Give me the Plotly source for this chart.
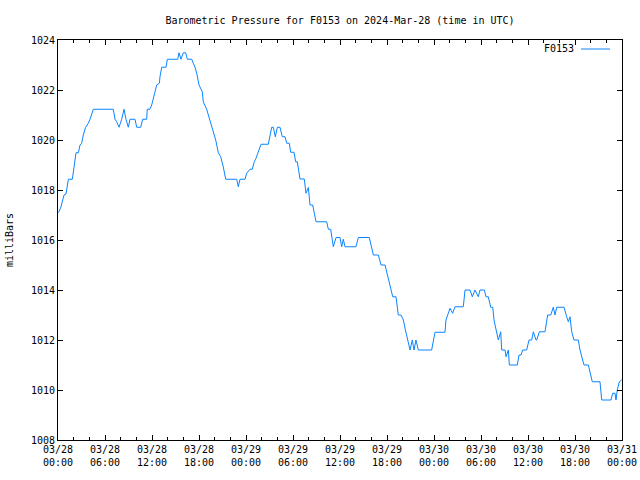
import pandas as pd
import plotly.graph_objects as go

# Hours since 2024-03-28 00:00 UTC and pressure (mb)
hours = [0.0, 0.13, 0.38, 0.55, 0.77, 1.02, 1.11, 1.32, 1.83, 2.04, 2.30, 2.60, 2.81, 3.02, 3.23, 3.53,
         3.87, 4.09, 4.51, 7.06, 7.28, 7.49, 7.79, 8.13, 8.43, 8.68, 8.98, 9.19, 9.83, 10.05, 10.56,
         10.81, 11.32, 11.40, 11.74, 11.96, 12.17, 12.38, 12.60, 12.94, 13.02, 13.24, 13.79, 13.96,
         15.28, 15.45, 15.70, 16.00, 16.30, 16.51, 17.07, 17.27, 17.49, 17.71, 18.00, 18.42, 18.55,
         18.98, 19.32, 19.70, 20.13, 20.47, 20.77, 21.10, 21.41, 22.81, 23.02, 23.23, 23.87, 24.09,
         24.51, 24.80, 25.06, 25.28, 25.57, 25.92, 26.85, 27.06, 27.28, 27.49, 27.74, 28.00, 28.34,
         28.63, 28.98, 29.20, 29.53, 29.70, 30.13, 30.34, 30.55, 30.89, 31.44, 31.66, 31.96, 32.17,
         32.51, 32.94, 34.30, 34.51, 34.81, 35.15, 35.49, 36.00, 36.21, 36.42, 36.64, 38.04, 38.34,
         39.74, 40.05, 40.26, 40.89, 41.24, 41.75, 41.96, 42.17, 42.51, 42.73, 43.15, 43.44, 43.79,
         44.09, 44.30, 44.64, 44.94, 45.23, 45.45, 45.70, 46.00, 47.70, 47.91, 48.13, 49.40, 49.53,
         49.83, 50.04, 50.38, 50.68, 51.74, 51.87, 51.96, 52.60, 52.89, 53.23, 53.66, 53.87, 54.43,
         54.64, 54.93, 55.24, 55.50, 55.66, 55.92, 56.21, 56.52, 56.64, 57.07, 57.19, 57.49, 57.62,
         58.64, 58.85, 59.11, 59.32, 59.83, 60.13, 60.47, 60.68, 61.02, 61.11, 61.45, 62.17, 62.51,
         62.90, 63.23, 63.45, 63.66, 64.60, 64.94, 65.15, 65.36, 65.58, 65.87, 66.42, 66.64, 67.15,
         67.70, 68.21, 69.19, 69.41, 70.60, 70.81, 71.11, 71.23, 71.40, 71.66, 71.95]
pressure = [1017.10, 1017.13, 1017.33, 1017.51, 1017.80, 1017.84, 1018.03, 1018.43, 1018.43, 1018.93,
            1019.49, 1019.49, 1019.80, 1019.87, 1020.20, 1020.51, 1020.67, 1020.83, 1021.23, 1021.23,
            1020.83, 1020.73, 1020.51, 1020.83, 1021.23, 1020.83, 1020.51, 1020.83, 1020.83, 1020.51,
            1020.51, 1020.83, 1020.83, 1021.23, 1021.23, 1021.40, 1021.67, 1021.93, 1022.20, 1022.27,
            1022.53, 1022.91, 1022.91, 1023.23, 1023.23, 1023.49, 1023.23, 1023.49, 1023.49, 1023.23,
            1023.23, 1023.07, 1022.91, 1022.67, 1022.20, 1021.93, 1021.53, 1021.23, 1020.87, 1020.51,
            1020.00, 1019.49, 1019.33, 1018.93, 1018.43, 1018.43, 1018.13, 1018.43, 1018.43, 1018.67,
            1018.83, 1018.83, 1019.13, 1019.27, 1019.53, 1019.83, 1019.83, 1020.20, 1020.51, 1020.51,
            1020.13, 1020.51, 1020.51, 1020.13, 1020.13, 1019.87, 1019.87, 1019.51, 1019.51, 1019.13,
            1019.13, 1018.44, 1018.44, 1017.87, 1018.10, 1017.40, 1017.40, 1016.73, 1016.73, 1016.43,
            1016.43, 1015.73, 1016.10, 1016.10, 1015.73, 1016.03, 1015.73, 1015.73, 1016.10, 1016.10,
            1015.73, 1015.40, 1015.40, 1015.00, 1015.00, 1014.73, 1014.40, 1013.96, 1013.73, 1013.73,
            1013.00, 1013.00, 1012.80, 1012.47, 1012.00, 1011.60, 1012.00, 1011.60, 1012.00, 1011.60,
            1011.60, 1012.00, 1012.31, 1012.31, 1012.80, 1013.07, 1013.27, 1013.07, 1013.33, 1013.33,
            1013.80, 1014.00, 1014.00, 1013.73, 1014.00, 1013.73, 1014.00, 1014.00, 1013.73, 1013.73,
            1013.31, 1013.31, 1012.80, 1012.40, 1012.00, 1012.33, 1011.60, 1011.60, 1011.33, 1011.60,
            1011.00, 1011.00, 1011.40, 1011.40, 1011.60, 1011.60, 1012.00, 1012.00, 1012.33, 1012.00,
            1012.00, 1012.33, 1012.33, 1013.00, 1013.00, 1013.31, 1013.00, 1013.31, 1013.31, 1012.93,
            1012.73, 1012.93, 1012.33, 1012.00, 1012.00, 1011.60, 1011.00, 1011.00, 1010.33, 1010.33,
            1009.60, 1009.60, 1009.87, 1009.87, 1009.60, 1010.00, 1010.33, 1010.40]

tick_labels = ["03/28<br>00:00", "03/28<br>06:00", "03/28<br>12:00", "03/28<br>18:00",
               "03/29<br>00:00", "03/29<br>06:00", "03/29<br>12:00", "03/29<br>18:00",
               "03/30<br>00:00", "03/30<br>06:00", "03/30<br>12:00", "03/30<br>18:00",
               "03/31<br>00:00"]
y_ticks = [1008, 1010, 1012, 1014, 1016, 1018, 1020, 1022, 1024]

base = pd.Timestamp("2024-03-28 00:00")
times = [base + pd.Timedelta(hours=h) for h in hours]
tick_vals = [base + pd.Timedelta(hours=6 * i) for i in range(len(tick_labels))]

FONT = "DejaVu Sans Mono"
LINE_COLOR = "#0a84ff"

fig = go.Figure()
fig.add_trace(go.Scatter(x=times, y=pressure, mode="lines", name="F0153",
                         line=dict(color=LINE_COLOR, width=1), showlegend=False))

fig.update_layout(
    width=640, height=480,
    margin=dict(l=58, r=18, t=40, b=40),
    paper_bgcolor="white", plot_bgcolor="white",
    font=dict(family=FONT, size=10, color="black"),
    title=dict(text="Barometric Pressure for F0153 on 2024-Mar-28 (time in UTC)",
               x=(58 + 622) / 2 / 640, xanchor="center", y=1 - 20 / 480, yanchor="middle",
               font=dict(family=FONT, size=10, color="black")),
    xaxis=dict(range=[base, base + pd.Timedelta(hours=72)], tickvals=tick_vals, ticktext=tick_labels,
               ticks="inside", ticklen=5, tickcolor="black", tickwidth=1, automargin=False,
               minor=dict(ticks="inside", ticklen=3, dtick=2 * 3600 * 1000, tick0=base,
                          tickcolor="black", showgrid=False),
               showline=True, linecolor="black", linewidth=1, mirror="ticks",
               showgrid=False, zeroline=False, tickfont=dict(family=FONT, size=10)),
    yaxis=dict(range=[1008, 1024], tickvals=y_ticks, ticktext=[str(v) for v in y_ticks],
               ticks="inside", ticklen=5, tickcolor="black", tickwidth=1, automargin=False,
               showline=True, linecolor="black", linewidth=1, mirror="ticks",
               showgrid=False, zeroline=False, tickfont=dict(family=FONT, size=10),
               title=dict(text="milliBars", font=dict(family=FONT, size=10), standoff=15)),
)

# gnuplot-style key: label then line sample, top-right inside plot
fig.add_annotation(x=(576 - 58) / 564, y=1 - 9 / 400, xref="paper", yref="paper",
                   text="F0153", showarrow=False, xanchor="right", yanchor="middle",
                   font=dict(family=FONT, size=10, color="black"))
fig.add_shape(type="line", xref="paper", yref="paper",
              x0=(581 - 58) / 564, x1=(610 - 58) / 564, y0=1 - 9 / 400, y1=1 - 9 / 400,
              line=dict(color=LINE_COLOR, width=1))

fig.write_html("out.html")
